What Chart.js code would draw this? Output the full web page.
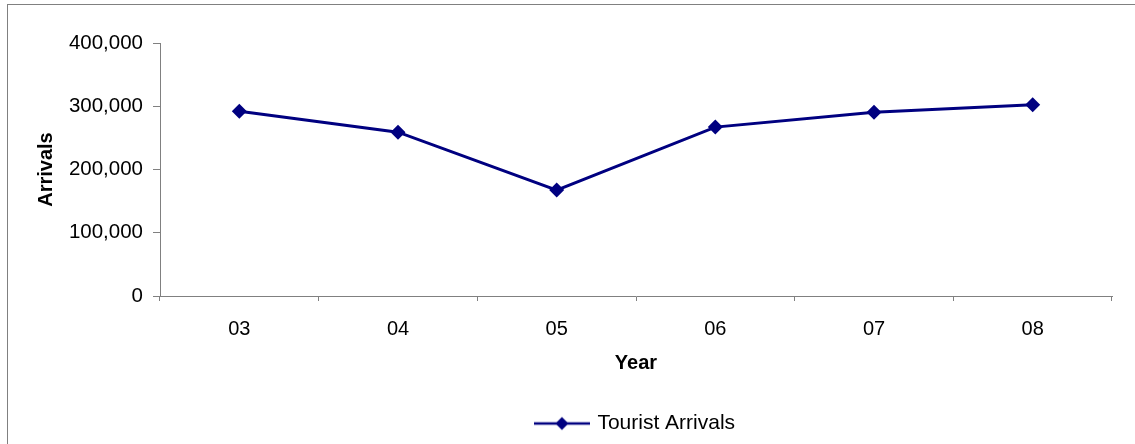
<!DOCTYPE html>
<html>
<head>
<meta charset="utf-8">
<script src="https://cdn.jsdelivr.net/npm/chart.js@4.4.1/dist/chart.umd.min.js"></script>
<style>
  html, body { margin: 0; padding: 0; background: #fff; }
  #wrap { position: relative; width: 1135px; height: 444px; overflow: hidden; }
  #frame { position: absolute; left: 7px; top: 4px; width: 1200px; height: 500px;
           border-top: 1px solid #808080; border-left: 1px solid #808080; }
  #arrivals { position: absolute; left: 0; top: 0; }
</style>
</head>
<body>
<div id="wrap">
  <div id="frame"></div>
  <canvas id="arrivals" width="1135" height="444"></canvas>
</div>
<script>
Chart.defaults.font.family = "'Liberation Sans', Arial, sans-serif";
Chart.defaults.font.size = 20;
Chart.defaults.color = '#000';

const years = ['03', '04', '05', '06', '07', '08'];
const touristArrivals = [292000, 259000, 167500, 267000, 290500, 302500];
const yTicks = [0, 100000, 200000, 300000, 400000];

const navy = '#000080';
const axisGrey = '#808080';

// legend marker: short line with a diamond through it
const legendMark = document.createElement('canvas');
legendMark.width = 56;
legendMark.height = 16;
const lc = legendMark.getContext('2d');
lc.strokeStyle = navy;
lc.lineWidth = 2.5;
lc.beginPath();
lc.moveTo(0, 8);
lc.lineTo(56, 8);
lc.stroke();
lc.fillStyle = navy;
lc.beginPath();
lc.moveTo(28, 1.5);
lc.lineTo(34.5, 8);
lc.lineTo(28, 14.5);
lc.lineTo(21.5, 8);
lc.closePath();
lc.fill();

const ctx = document.getElementById('arrivals');

new Chart(ctx, {
  type: 'line',
  data: {
    labels: years,
    datasets: [{
      label: 'Tourist Arrivals',
      data: touristArrivals,
      borderColor: navy,
      backgroundColor: navy,
      borderWidth: 3,
      pointStyle: 'rectRot',
      pointRadius: 7.5,
      pointBorderWidth: 0,
      tension: 0,
    }]
  },
  options: {
    responsive: false,
    animation: false,
    layout: {
      padding: { top: 43, left: 0, right: 23, bottom: 0 }
    },
    scales: {
      x: {
        offset: true,
        grid: {
          offset: true,
          drawOnChartArea: false,
          tickLength: 5,
          color: axisGrey,
        },
        border: { color: axisGrey },
        ticks: { padding: 16, maxRotation: 0 },
        title: {
          display: true,
          text: 'Year',
          font: { weight: 'bold', size: 20 },
          padding: { top: 0, bottom: 36 },
        },
        afterFit(scale) { scale.height = 115; },
      },
      y: {
        min: 0,
        max: 400000,
        afterBuildTicks(scale) {
          scale.ticks = yTicks.map(v => ({ value: v }));
        },
        grid: {
          drawOnChartArea: false,
          tickLength: 7,
          color: axisGrey,
        },
        border: { color: axisGrey },
        ticks: {
          padding: 10,
          font: { size: 20.5 },
          callback: v => v.toLocaleString('en-US'),
        },
        title: {
          display: true,
          text: 'Arrivals',
          font: { weight: 'bold', size: 20 },
          padding: { top: 34, bottom: 0 },
        },
        afterFit(scale) { scale.width = 160; },
      }
    },
    plugins: {
      legend: {
        position: 'bottom',
        fullSize: false,
        labels: {
          usePointStyle: true,
          pointStyle: legendMark,
          pointStyleWidth: 50,
          padding: 2,
          color: '#000',
          font: { size: 21 },
        }
      },
      tooltip: { enabled: false },
    }
  }
});
</script>
</body>
</html>
